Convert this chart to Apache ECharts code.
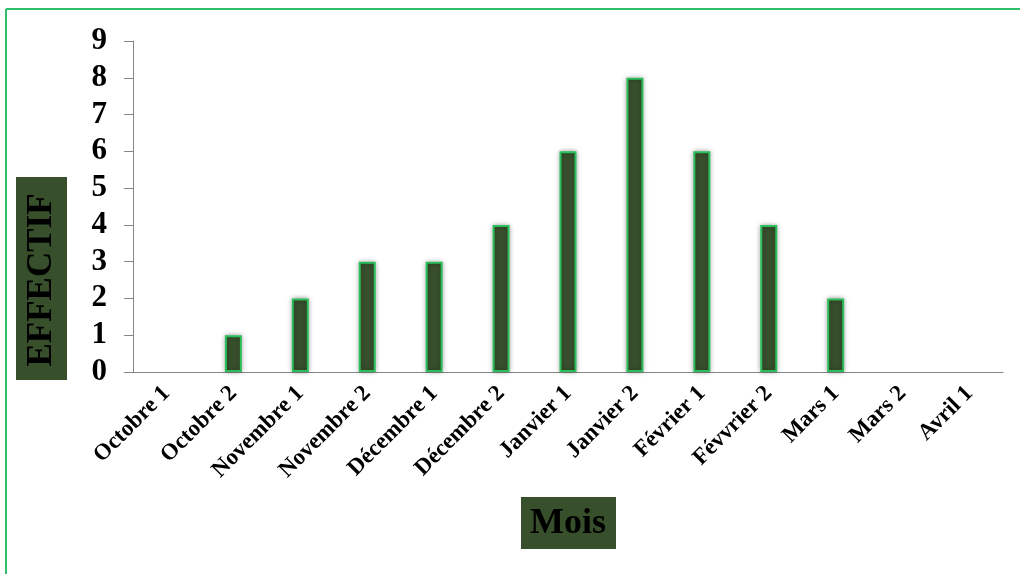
<!DOCTYPE html>
<html>
<head>
<meta charset="utf-8">
<script src="https://cdn.jsdelivr.net/npm/echarts@6/dist/echarts.min.js"></script>
<style>html,body{margin:0;padding:0;background:#fff;}#c{width:1020px;height:574px;}</style>
</head>
<body>
<div id="c"></div>
<script>
const categories = ['Octobre 1','Octobre 2','Novembre 1','Novembre 2','Décembre 1','Décembre 2','Janvier 1','Janvier 2','Février 1','Févvrier 2','Mars 1','Mars 2','Avril 1'];
const effectif = [0,1,2,3,3,4,6,8,6,4,2,0,0];
const yTicks = [0,1,2,3,4,5,6,7,8,9];
const yTitle = 'EFFECTIF';
const xTitle = 'Mois';

const chart = echarts.init(document.getElementById('c'));
const serif = '"Liberation Serif","Times New Roman",serif';
chart.setOption({
  animation: false,
  grid: {left: 133, right: 17, top: 41, bottom: 202},
  xAxis: {
    type: 'category',
    data: categories,
    axisLine: {show: true, lineStyle: {color: '#868686', width: 1}},
    axisTick: {show: false},
    axisLabel: {interval: 0, rotate: 45, margin: 18, fontFamily: serif, fontWeight: 'bold', fontSize: 23, color: '#000'}
  },
  yAxis: {
    type: 'value',
    min: yTicks[0], max: yTicks[yTicks.length-1], interval: 1,
    axisLine: {show: true, lineStyle: {color: '#868686', width: 1}},
    axisTick: {show: true, length: 9, lineStyle: {color: '#868686'}},
    splitLine: {show: false},
    axisLabel: {margin: 26, fontFamily: serif, fontWeight: 'bold', fontSize: 31, color: '#000'}
  },
  series: [{
    type: 'bar',
    data: effectif.map(v => v === 0 ? {value: v, itemStyle: {borderWidth: 0, shadowBlur: 0}} : v),
    barWidth: 17,
    itemStyle: {color: '#384f2c', borderColor: '#2bbf5c', borderWidth: 2, shadowBlur: 5, shadowColor: 'rgba(0,0,0,0.35)'}
  }],
  graphic: [
    {type: 'line', shape: {x1: 6, y1: 9, x2: 1020, y2: 9}, style: {stroke: '#2fbf6a', lineWidth: 2}},
    {type: 'line', shape: {x1: 6, y1: 9, x2: 6, y2: 574}, style: {stroke: '#2fbf6a', lineWidth: 2}},
    {type: 'rect', shape: {x: 16, y: 177, width: 51, height: 203}, style: {fill: '#384f2c'}},
    {type: 'text', x: 42, y: 280, rotation: Math.PI/2,
     style: {text: yTitle, font: 'bold 35px ' + serif, fill: '#000', textAlign: 'center', textVerticalAlign: 'middle'}},
    {type: 'rect', shape: {x: 521, y: 497, width: 95, height: 52}, style: {fill: '#384f2c'}},
    {type: 'text', x: 568, y: 524,
     style: {text: xTitle, font: 'bold 36px ' + serif, fill: '#000', textAlign: 'center', textVerticalAlign: 'middle'}}
  ]
});
</script>
</body>
</html>
